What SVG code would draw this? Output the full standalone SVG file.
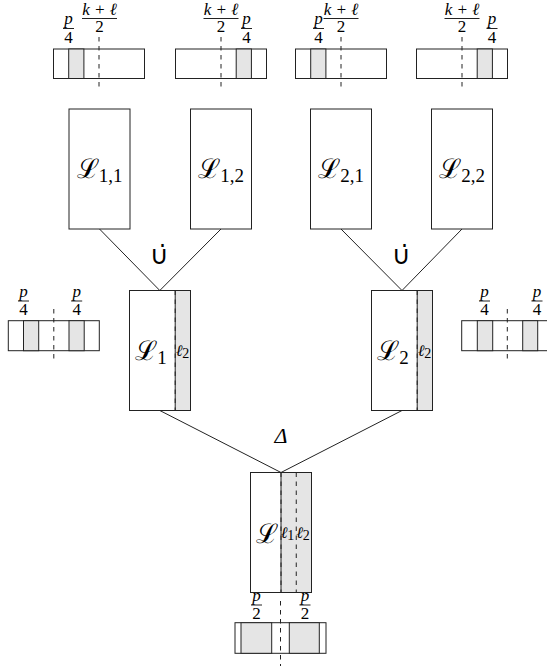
<svg xmlns="http://www.w3.org/2000/svg" width="547" height="667" viewBox="0 0 547 667">
<style>
.bx{fill:#fff;stroke:#222;stroke-width:1}
.sh{fill:#e5e5e5;stroke:#222;stroke-width:1}
.ln{stroke:#222;stroke-width:1;fill:none}
.ds{stroke:#222;stroke-width:1;stroke-dasharray:4.5 4.5;fill:none}
.fr{font-family:"Liberation Serif","DejaVu Serif",serif;font-size:17px;text-anchor:middle;fill:#000}
.it{font-style:italic}
.big{font-family:"DejaVu Serif","Liberation Serif",serif;font-size:27px;text-anchor:middle;fill:#000}
.sub{font-family:"Liberation Serif","DejaVu Serif",serif;font-size:19px;font-style:normal}
.el{font-family:"Liberation Serif","DejaVu Serif",serif;font-size:16px;fill:#000;text-anchor:middle}
.es{font-size:14px;font-style:normal}
.op{font-family:"DejaVu Sans",sans-serif;font-size:26px;text-anchor:middle;fill:#000}
</style>
<g id="connectors">
<line class="ln" x1="99.5" y1="229" x2="159.8" y2="290.5"/>
<line class="ln" x1="221" y1="229" x2="159.8" y2="290.5"/>
<line class="ln" x1="341" y1="229" x2="402" y2="290.5"/>
<line class="ln" x1="462" y1="229" x2="402" y2="290.5"/>
<line class="ln" x1="159.8" y1="410.5" x2="281" y2="472.5"/>
<line class="ln" x1="402" y1="410.5" x2="281" y2="472.5"/>
</g>
<g id="op-union-1"><text class="op" x="159.5" y="264">∪̇</text></g>
<g id="op-union-2"><text class="op" x="401.5" y="264">∪̇</text></g>
<g id="op-delta"><text class="fr it" x="281" y="443" style="font-size:22px">Δ</text></g>

<g id="strip-1">
<rect class="bx" x="53.5" y="49" width="91" height="29.5"/>
<rect class="sh" x="68.7" y="49" width="15.2" height="29.5"/>
<line class="ds" x1="99" y1="37" x2="99" y2="91"/>
<text class="fr it" x="68.5" y="24">p</text><line class="ln" x1="63" y1="28.5" x2="74" y2="28.5"/><text class="fr" x="68.5" y="42.5">4</text>
<text class="fr it" x="99.5" y="14.5">k + ℓ</text><line class="ln" x1="82" y1="18.5" x2="117" y2="18.5"/><text class="fr" x="99.5" y="32">2</text>
</g>
<g id="strip-2">
<rect class="bx" x="175.5" y="49" width="91" height="29.5"/>
<rect class="sh" x="236.2" y="49" width="15.2" height="29.5"/>
<line class="ds" x1="221" y1="37" x2="221" y2="91"/>
<text class="fr it" x="246.5" y="24">p</text><line class="ln" x1="241" y1="28.5" x2="252" y2="28.5"/><text class="fr" x="246.5" y="42.5">4</text>
<text class="fr it" x="221" y="14.5">k + ℓ</text><line class="ln" x1="203.5" y1="18.5" x2="238.5" y2="18.5"/><text class="fr" x="221" y="32">2</text>
</g>
<g id="strip-3">
<rect class="bx" x="295.5" y="49" width="91" height="29.5"/>
<rect class="sh" x="310.7" y="49" width="15.2" height="29.5"/>
<line class="ds" x1="341" y1="37" x2="341" y2="91"/>
<text class="fr it" x="318.5" y="24">p</text><line class="ln" x1="313" y1="28.5" x2="324" y2="28.5"/><text class="fr" x="318.5" y="42.5">4</text>
<text class="fr it" x="341" y="14.5">k + ℓ</text><line class="ln" x1="323.5" y1="18.5" x2="358.5" y2="18.5"/><text class="fr" x="341" y="32">2</text>
</g>
<g id="strip-4">
<rect class="bx" x="416.5" y="49" width="91" height="29.5"/>
<rect class="sh" x="477.2" y="49" width="15.2" height="29.5"/>
<line class="ds" x1="462" y1="37" x2="462" y2="91"/>
<text class="fr it" x="492" y="24">p</text><line class="ln" x1="486.5" y1="28.5" x2="497.5" y2="28.5"/><text class="fr" x="492" y="42.5">4</text>
<text class="fr it" x="462" y="14.5">k + ℓ</text><line class="ln" x1="444.5" y1="18.5" x2="479.5" y2="18.5"/><text class="fr" x="462" y="32">2</text>
</g>

<g id="L11"><rect class="bx" x="69" y="109" width="61" height="120"/><text class="big" x="99.5" y="178">ℒ<tspan class="sub" dy="4">1,1</tspan></text></g>
<g id="L12"><rect class="bx" x="190.5" y="109" width="61" height="120"/><text class="big" x="221" y="178">ℒ<tspan class="sub" dy="4">1,2</tspan></text></g>
<g id="L21"><rect class="bx" x="310.5" y="109" width="61" height="120"/><text class="big" x="341" y="178">ℒ<tspan class="sub" dy="4">2,1</tspan></text></g>
<g id="L22"><rect class="bx" x="431.5" y="109" width="61" height="120"/><text class="big" x="462" y="178">ℒ<tspan class="sub" dy="4">2,2</tspan></text></g>

<g id="L1">
<rect class="bx" x="129.5" y="290.5" width="61" height="120"/>
<rect class="sh" x="175.2" y="290.5" width="15.3" height="120"/>
<line class="ds" x1="175.2" y1="290.5" x2="175.2" y2="410.5"/>
<text class="big" x="151" y="360">ℒ<tspan class="sub" dy="4">1</tspan></text>
<text class="el it" x="182.5" y="356">ℓ<tspan class="es" dy="2">2</tspan></text>
</g>
<g id="L2">
<rect class="bx" x="371.5" y="290.5" width="61" height="120"/>
<rect class="sh" x="417.2" y="290.5" width="15.3" height="120"/>
<line class="ds" x1="417.2" y1="290.5" x2="417.2" y2="410.5"/>
<text class="big" x="393" y="360">ℒ<tspan class="sub" dy="4">2</tspan></text>
<text class="el it" x="424.5" y="356">ℓ<tspan class="es" dy="2">2</tspan></text>
</g>

<g id="side-left">
<rect class="bx" x="8.3" y="320.7" width="91" height="30"/>
<rect class="sh" x="23.5" y="320.7" width="15.2" height="30"/>
<rect class="sh" x="69" y="320.7" width="15.2" height="30"/>
<line class="ds" x1="53.8" y1="309" x2="53.8" y2="363"/>
<text class="fr it" x="23.5" y="296.5">p</text><line class="ln" x1="18" y1="301" x2="29" y2="301"/><text class="fr" x="23.5" y="315">4</text>
<text class="fr it" x="76.7" y="296.5">p</text><line class="ln" x1="71.2" y1="301" x2="82.2" y2="301"/><text class="fr" x="76.7" y="315">4</text>
</g>
<g id="side-right">
<rect class="bx" x="461.7" y="320.7" width="91" height="30"/>
<rect class="sh" x="477.3" y="320.7" width="15.4" height="30"/>
<rect class="sh" x="522.7" y="320.7" width="15" height="30"/>
<line class="ds" x1="507.3" y1="309" x2="507.3" y2="363"/>
<text class="fr it" x="484.5" y="296.5">p</text><line class="ln" x1="479" y1="301" x2="490" y2="301"/><text class="fr" x="484.5" y="315">4</text>
<text class="fr it" x="537" y="296.5">p</text><line class="ln" x1="531.5" y1="301" x2="542.5" y2="301"/><text class="fr" x="537" y="315">4</text>
</g>

<g id="L">
<rect class="bx" x="250.5" y="472.5" width="61" height="120"/>
<rect class="sh" x="281" y="472.5" width="30.5" height="120"/>
<line class="ds" x1="281" y1="472.5" x2="281" y2="592.5"/>
<line class="ds" x1="296.25" y1="472.5" x2="296.25" y2="592.5"/>
<text class="big" x="267" y="543">ℒ</text>
<text class="el it" x="287.5" y="538">ℓ<tspan class="es" dy="2">1</tspan></text>
<text class="el it" x="303" y="538">ℓ<tspan class="es" dy="2">2</tspan></text>
</g>

<g id="strip-bottom">
<rect class="bx" x="235" y="622.7" width="91" height="30.6"/>
<rect class="sh" x="241" y="622.7" width="30.7" height="30.6"/>
<rect class="sh" x="289.3" y="622.7" width="30" height="30.6"/>
<line class="ds" x1="280.5" y1="601" x2="280.5" y2="666"/>
<text class="fr it" x="256.5" y="600.5">p</text><line class="ln" x1="251" y1="605" x2="262" y2="605"/><text class="fr" x="256.5" y="619">2</text>
<text class="fr it" x="305" y="600.5">p</text><line class="ln" x1="299.5" y1="605" x2="310.5" y2="605"/><text class="fr" x="305" y="619">2</text>
</g>
</svg>
